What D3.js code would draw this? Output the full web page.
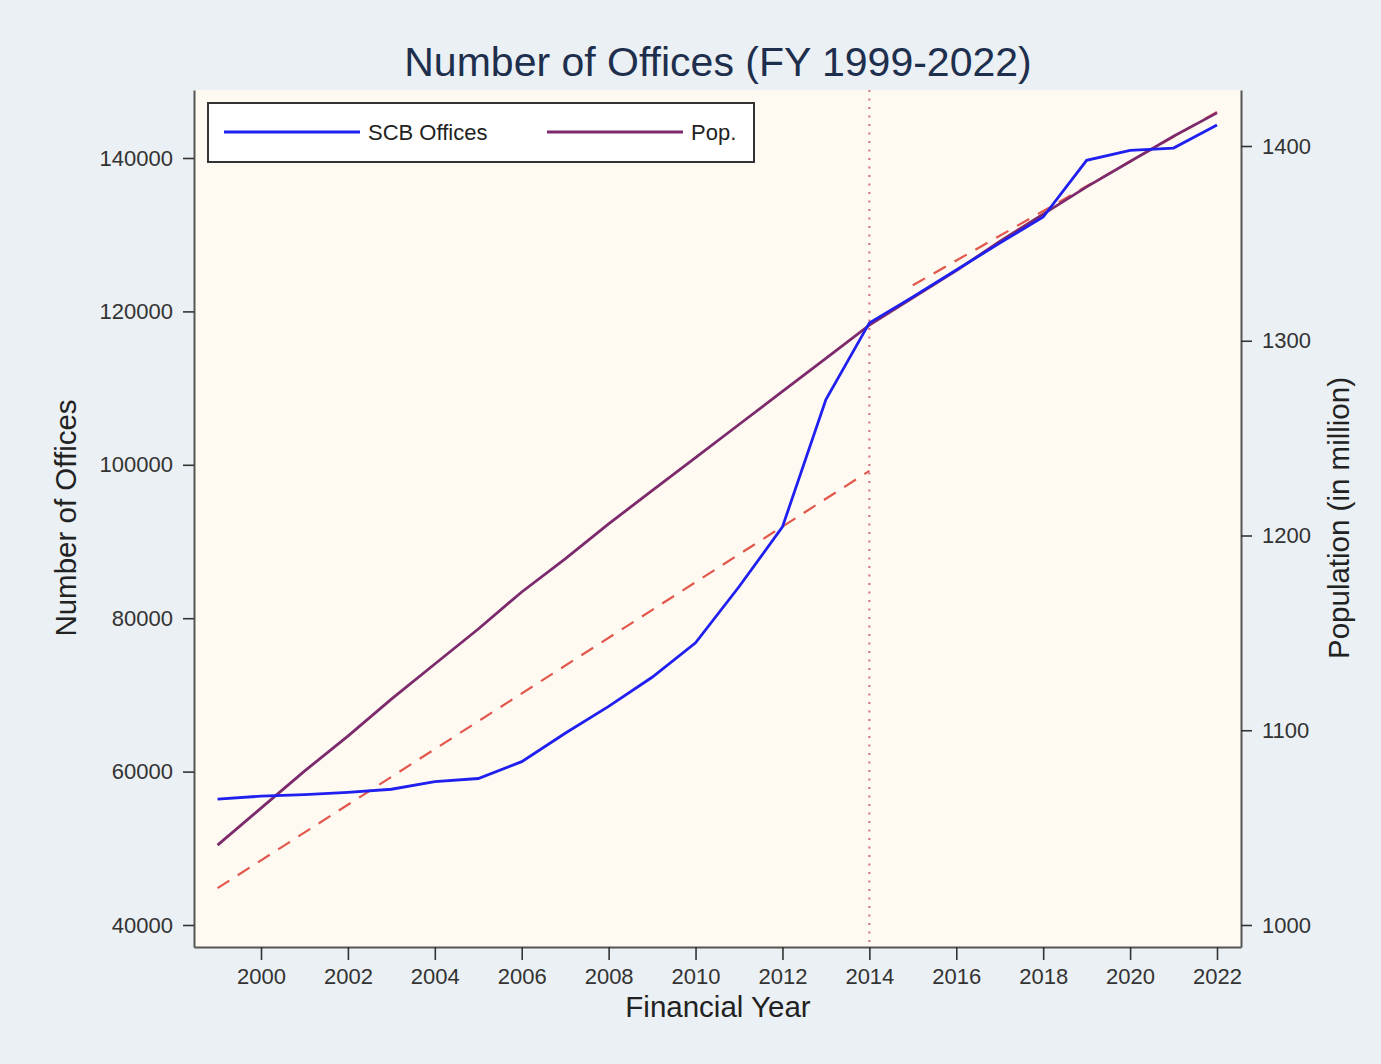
<!DOCTYPE html>
<html>
<head>
<meta charset="utf-8">
<script src="https://cdn.jsdelivr.net/npm/d3@7"></script>
<style>
  body { margin: 0; background: #eaf0f3; }
  svg { display: block; }
  text { font-family: "Liberation Sans", Arial, Helvetica, sans-serif; }
</style>
</head>
<body>
<svg id="chart" width="1381" height="1064"></svg>
<script>
// data
var years = [1999, 2000, 2001, 2002, 2003, 2004, 2005, 2006, 2007, 2008, 2009, 2010,
             2011, 2012, 2013, 2014, 2015, 2016, 2017, 2018, 2019, 2020, 2021, 2022];
var scbOffices = [56400, 56800, 57000, 57300, 57700, 58700, 59100, 61300, 65000, 68500, 72300, 76800,
                  84100, 91900, 108500, 118500, 121900, 125400, 128900, 132300, 139700, 141000, 141300, 144300];
var population = [1041, 1060, 1079, 1097, 1116, 1134, 1152, 1171, 1188, 1206, 1223, 1240,
                  1257, 1274, 1291, 1308, 1322, 1336, 1351, 1365, 1379, 1392, 1405, 1417];
// fitted trend segments (offices), before and after the 2014 break
var trendYears1 = [1999, 2014];
var trendValues1 = [44800, 99200];
var trendYears2 = [2015, 2022];
var trendValues2 = [123400, 146000];
var breakYear = 2014;
var xTicks = [2000, 2002, 2004, 2006, 2008, 2010, 2012, 2014, 2016, 2018, 2020, 2022];
var leftTicks = [40000, 60000, 80000, 100000, 120000, 140000];
var rightTicks = [1000, 1100, 1200, 1300, 1400];

var svg = d3.select("#chart");
var plotLeft = 194, plotRight = 1241, plotTop = 90, plotBottom = 947;

// scales calibrated on tick positions, then stretched to the plot box
var x = d3.scaleLinear().domain([2000, 2022]).range([261, 1217]);
x.domain([x.invert(plotLeft), x.invert(plotRight)]).range([plotLeft, plotRight]);
var yL = d3.scaleLinear().domain([40000, 140000]).range([925, 158]);
yL.domain([yL.invert(plotBottom), yL.invert(plotTop)]).range([plotBottom, plotTop]);
var yR = d3.scaleLinear().domain([1000, 1400]).range([925, 146]);
yR.domain([yR.invert(plotBottom), yR.invert(plotTop)]).range([plotBottom, plotTop]);

svg.append("rect").attr("width", 1381).attr("height", 1064).attr("fill", "#eaf0f3");
svg.append("rect")
    .attr("x", plotLeft).attr("y", plotTop)
    .attr("width", plotRight - plotLeft).attr("height", plotBottom - plotTop)
    .attr("fill", "#fffaf1");

// vertical break line
svg.append("line")
    .attr("x1", x(breakYear)).attr("x2", x(breakYear))
    .attr("y1", plotTop).attr("y2", plotBottom)
    .attr("stroke", "#d46f78").attr("stroke-width", 2)
    .attr("stroke-dasharray", "2,6.5");

var lineL = d3.line().x(function(d) { return x(d[0]); }).y(function(d) { return yL(d[1]); });
var lineR = d3.line().x(function(d) { return x(d[0]); }).y(function(d) { return yR(d[1]); });

[[trendYears1, trendValues1], [trendYears2, trendValues2]].forEach(function(t) {
    svg.append("path")
        .attr("d", lineL(d3.zip(t[0], t[1])))
        .attr("fill", "none")
        .attr("stroke", "#e2574c")
        .attr("stroke-width", 2.2)
        .attr("stroke-dasharray", "14,10");
});

svg.append("path")
    .attr("d", lineR(d3.zip(years, population)))
    .attr("fill", "none").attr("stroke", "#7c2a6c").attr("stroke-width", 2.8);

svg.append("path")
    .attr("d", lineL(d3.zip(years, scbOffices)))
    .attr("fill", "none").attr("stroke", "#1f1ff0").attr("stroke-width", 2.8);

// axes
function styleAxis(g) {
    g.select(".domain").attr("stroke", "#555").attr("stroke-width", 2);
    g.selectAll(".tick line").attr("stroke", "#333").attr("stroke-width", 1.6);
    g.selectAll(".tick text").attr("fill", "#333").style("font-size", "22px")
        .style("font-family", "'Liberation Sans', Arial, sans-serif");
}

svg.append("g")
    .attr("transform", "translate(0," + plotBottom + ")")
    .call(d3.axisBottom(x).tickValues(xTicks).tickFormat(d3.format("d")).tickSizeOuter(0).tickSizeInner(13).tickPadding(8))
    .call(styleAxis);

svg.append("g")
    .attr("transform", "translate(" + plotLeft + ",0)")
    .call(d3.axisLeft(yL).tickValues(leftTicks).tickFormat(d3.format("d")).tickSizeOuter(0).tickSizeInner(11).tickPadding(10))
    .call(styleAxis);

svg.append("g")
    .attr("transform", "translate(" + plotRight + ",0)")
    .call(d3.axisRight(yR).tickValues(rightTicks).tickFormat(d3.format("d")).tickSizeOuter(0).tickSizeInner(11).tickPadding(10))
    .call(styleAxis);

// titles
svg.append("text")
    .attr("x", 718).attr("y", 76)
    .attr("text-anchor", "middle")
    .attr("fill", "#1e2f4e")
    .style("font-size", "41px")
    .text("Number of Offices (FY 1999-2022)");

svg.append("text")
    .attr("x", 718).attr("y", 1017)
    .attr("text-anchor", "middle")
    .attr("fill", "#222")
    .style("font-size", "29.5px")
    .text("Financial Year");

svg.append("text")
    .attr("transform", "translate(76,518) rotate(-90)")
    .attr("text-anchor", "middle")
    .attr("fill", "#222")
    .style("font-size", "29.5px")
    .text("Number of Offices");

svg.append("text")
    .attr("transform", "translate(1349,518) rotate(-90)")
    .attr("text-anchor", "middle")
    .attr("fill", "#222")
    .style("font-size", "29.5px")
    .text("Population (in million)");

// legend
var legend = svg.append("g");
legend.append("rect")
    .attr("x", 208).attr("y", 103).attr("width", 546).attr("height", 59)
    .attr("fill", "#fff").attr("stroke", "#333").attr("stroke-width", 2);

var legendItems = [
    { label: "SCB Offices", color: "#1f1ff0", x0: 224 },
    { label: "Pop.", color: "#7c2a6c", x0: 547 }
];
legendItems.forEach(function(d) {
    legend.append("line")
        .attr("x1", d.x0).attr("x2", d.x0 + 136)
        .attr("y1", 132).attr("y2", 132)
        .attr("stroke", d.color).attr("stroke-width", 2.8);
    legend.append("text")
        .attr("x", d.x0 + 144).attr("y", 140)
        .attr("fill", "#222")
        .style("font-size", "22px")
        .text(d.label);
});
</script>
</body>
</html>
